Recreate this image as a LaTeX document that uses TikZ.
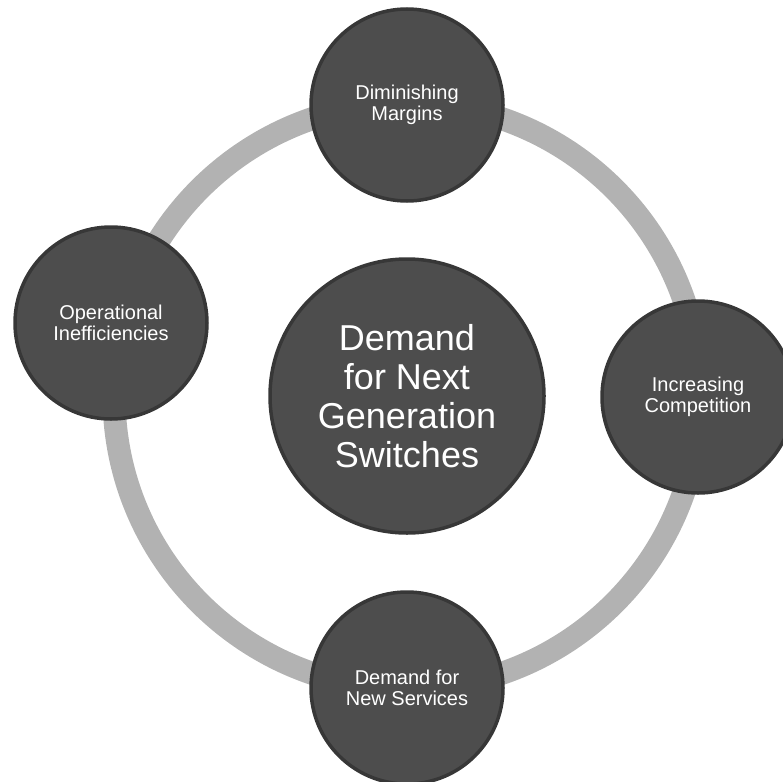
\documentclass[tikz,border=0pt]{standalone}
\usepackage{fontspec}
\setmainfont{Liberation Sans}
\usetikzlibrary{positioning}
\definecolor{ringgray}{RGB}{178,178,178}
\definecolor{discfill}{RGB}{77,77,77}
\definecolor{discedge}{RGB}{55,55,55}

\begin{document}
\begin{tikzpicture}[line cap=round,line join=round,x=1pt,y=-1pt,
  ringline/.style={draw=ringgray,line width=23pt},
  disc/.style={circle,fill=discfill,draw=discedge,line width=3.5pt,inner sep=0pt,
    minimum size=192pt,align=center,text=white,font=\fontsize{20}{21.6}\selectfont},
  hubdisc/.style={disc,minimum size=274pt,font=\fontsize{36}{38.9}\selectfont}]
\useasboundingbox (0,0) rectangle (783,781);
\clip (0,0) rectangle (783,781);
\coordinate (hub) at (407,396);
% ring behind the discs
\draw [ringline] (hub) circle (293);
\node [disc] (margins) at (407,105) {Diminishing\\Margins};
\node [disc] (competition) at (698,397) {Increasing\\Competition};
\node [disc] (services) at (407,688) {Demand for\\New Services};
\node [disc] (inefficiency) at (111,323) {Operational\\Inefficiencies};
\node [hubdisc] (demand) at (hub) {Demand\\for Next\\Generation\\Switches};
\end{tikzpicture}
\end{document}
